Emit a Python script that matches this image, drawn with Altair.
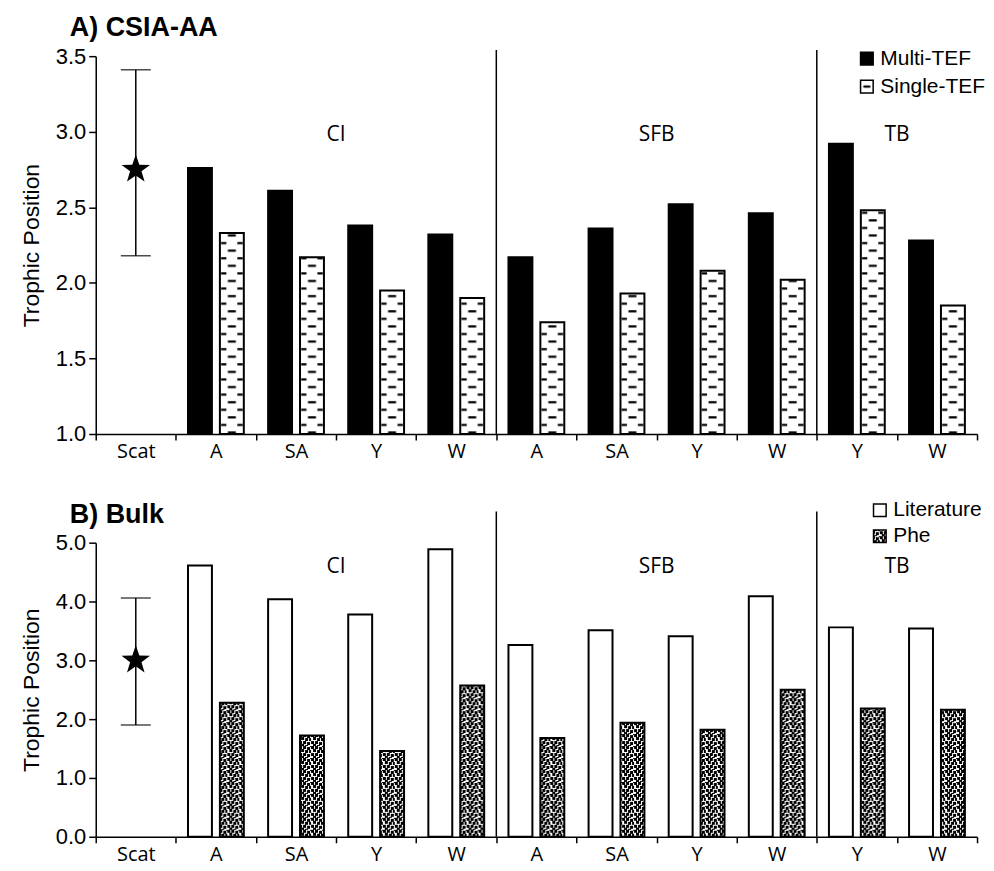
import math
import altair as alt
import pandas as pd
import jinja2

# ---------------- data ----------------
categories = ["Scat", "CI-A", "CI-SA", "CI-Y", "CI-W", "SFB-A", "SFB-SA", "SFB-Y", "SFB-W", "TB-Y", "TB-W"]
bar_categories = categories[1:]

multi_tef = [2.76, 2.61, 2.38, 2.32, 2.17, 2.36, 2.52, 2.46, 2.92, 2.28]
single_tef = [2.33, 2.17, 1.95, 1.90, 1.74, 1.93, 2.08, 2.02, 2.48, 1.85]
literature = [4.61, 4.04, 3.78, 4.89, 3.26, 3.51, 3.41, 4.09, 3.56, 3.54]
phe = [2.28, 1.72, 1.46, 2.57, 1.68, 1.94, 1.82, 2.50, 2.18, 2.16]

scat_a = {"mean": 2.75, "low": 2.18, "high": 3.41}
scat_b = {"mean": 3.00, "low": 1.90, "high": 4.06}

group_labels = ["CI", "SFB", "TB"]
group_anchor = ["CI-Y", "SFB-Y", "TB-W"]      # label sits at the left edge of this band
group_y_a = 2.98
group_y_b = 4.58
separator_cats = ["SFB-A", "TB-Y"]
separator_top_a = 3.54
separator_top_b = 5.53

ticks_a = [1.0, 1.5, 2.0, 2.5, 3.0, 3.5]
ticks_b = [0.0, 1.0, 2.0, 3.0, 4.0, 5.0]

# ---------------- layout / style ----------------
W = 884
H_A = 379
H_B = 295
STEP = W / len(categories)
BAR_W = 24
HALF_GAP = 16                      # bar centre offset from band centre
L2 = STEP / 2 + HALF_GAP - BAR_W / 2   # left edge of the second bar within a band
R2 = L2 + BAR_W

# patterns (SVG defs): dashed brick for Single-TEF, checker for Phe
PH = 15.2
dash_rects = [
    (L2 + 1, 4, 5.5, 2.2), (R2 - 6.5, 4, 5.5, 2.2), (L2 + BAR_W / 2 - 4, 11.6, 8, 2.2),
    # small dash around the origin for the legend symbol
    (0, 0, 3.5, 1.1), (0, PH - 1.1, 3.5, 1.1), (STEP - 3.5, 0, 3.5, 1.1), (STEP - 3.5, PH - 1.1, 3.5, 1.1),
]
dash_pat = (f'<pattern id="dashfill" patternUnits="userSpaceOnUse" x="0" y="0" width="{STEP:.4f}" height="{PH}">'
            f'<rect x="0" y="0" width="{STEP:.4f}" height="{PH}" fill="white"/>'
            + "".join(f'<rect x="{a:.3f}" y="{b:.3f}" width="{c}" height="{d}" fill="black"/>'
                      for a, b, c, d in dash_rects)
            + '</pattern>')
checks = [(0, 0, 3, 3), (4, 0, 3, 3), (8, 1, 3, 3), (2, 3, 3, 3), (6, 4, 3, 3), (10, 4, 2, 3),
          (0, 7, 3, 3), (4, 7, 3, 3), (8, 8, 3, 3), (2, 10, 3, 2), (6, 11, 3, 1), (11, 0, 1, 1)]
phe_pat = ('<pattern id="phefill" patternUnits="userSpaceOnUse" x="0" y="0" width="12" height="12">'
           '<rect x="0" y="0" width="12" height="12" fill="white"/>'
           + "".join(f'<rect x="{a}" y="{b}" width="{c}" height="{d}" fill="black"/>' for a, b, c, d in checks)
           + '</pattern>')
DEFS = dash_pat + phe_pat

# 5-point star as a custom symbol path in [-1, 1]
pts = []
for k in range(10):
    ang = math.radians(-90 + 36 * k)
    r = 1.0 if k % 2 == 0 else 0.40
    pts.append(f"{r * math.cos(ang):.4f},{r * math.sin(ang):.4f}")
STAR = "M" + "L".join(pts) + "Z"

SANS = "Liberation Sans"
MYRIAD = "Open Sans"

label_expr = "indexof(datum.label, '-') >= 0 ? split(datum.label, '-')[1] : datum.label"


def panel(title, names, v1, v2, fills, ymin, ymax, ticks, height, scat, group_y, sep_top,
          leg_x, leg_y, leg_row, title_offset):
    xscale = alt.Scale(domain=categories, paddingInner=0, paddingOuter=0)
    xaxis = alt.Axis(labelExpr=label_expr, tickBand="extent", labelAngle=0, labelFont=MYRIAD,
                     labelFontSize=20, labelColor="black", tickColor="black", tickSize=6, tickWidth=1.5,
                     domainColor="black", domainWidth=1.5, labelPadding=2, grid=False, title=None)
    yscale = alt.Scale(domain=[ymin, ymax], nice=False, zero=False)
    yaxis = alt.Axis(values=ticks, format=".1f", labelFont=SANS, labelFontSize=22, labelColor="black",
                     tickColor="black", tickSize=7, tickWidth=1.5, domainColor="black", domainWidth=1.5,
                     titleFont=SANS, titleFontSize=23, titleFontWeight="normal", titleColor="black",
                     titlePadding=12, labelPadding=3, grid=False)

    def X(field="cat", **kw):
        return alt.X(f"{field}:N", scale=xscale, axis=xaxis, title=None, **kw)

    def Y(field):
        return alt.Y(f"{field}:Q", scale=yscale, axis=yaxis, title="Trophic Position")

    color = alt.Color("series:N", scale=alt.Scale(domain=names, range=fills),
                      legend=alt.Legend(title=None, orient="none", legendX=leg_x, legendY=leg_y,
                                        symbolType="square", symbolSize=160, symbolStrokeColor="black",
                                        symbolStrokeWidth=1.5, labelFont=SANS, labelFontSize=21,
                                        labelColor="black", rowPadding=leg_row, labelOffset=3, padding=0))

    df1 = pd.DataFrame({"cat": bar_categories, "series": [names[0]] * len(v1), "value": v1})
    df2 = pd.DataFrame({"cat": bar_categories, "series": [names[1]] * len(v2), "value": v2})
    bars1 = alt.Chart(df1).mark_bar(width=BAR_W, xOffset=-HALF_GAP, stroke="black", strokeWidth=2).encode(
        x=X(), y=Y("value"), y2=alt.datum(ymin), color=color)
    bars2 = alt.Chart(df2).mark_bar(width=BAR_W, xOffset=HALF_GAP, stroke="black", strokeWidth=2).encode(
        x=X(), y=Y("value"), y2=alt.datum(ymin), color=color)

    scat_df = pd.DataFrame({"cat": ["Scat"], "mean": [scat["mean"]], "low": [scat["low"]], "high": [scat["high"]]})
    caps_df = pd.DataFrame({"cat": ["Scat", "Scat"], "v": [scat["low"], scat["high"]]})
    err = alt.Chart(scat_df).mark_rule(color="black", strokeWidth=1.5).encode(x=X(), y=Y("low"), y2="high:Q")
    caps = alt.Chart(caps_df).mark_tick(color="black", thickness=1.5, size=30).encode(x=X(), y=Y("v"))
    star = alt.Chart(scat_df).mark_point(shape=STAR, size=900, filled=True, color="black", opacity=1).encode(
        x=X(), y=Y("mean"))

    grp_df = pd.DataFrame({"cat": group_anchor, "label": group_labels, "ty": [group_y] * 3})
    grp = alt.Chart(grp_df).mark_text(font=MYRIAD, fontSize=21, color="black", baseline="middle").encode(
        x=X(bandPosition=0), y=Y("ty"), text="label:N")

    sep_df = pd.DataFrame({"cat": separator_cats, "top": [sep_top] * 2})
    sep = alt.Chart(sep_df).mark_rule(color="black", strokeWidth=1.5).encode(
        x=X(bandPosition=0), y=Y("top"), y2=alt.datum(ymin))

    return alt.layer(bars1, bars2, sep, err, caps, star, grp).properties(
        width=W, height=height,
        title=alt.TitleParams(title, anchor="start", frame="group", dx=-26, font=SANS, fontSize=27,
                              fontWeight="bold", color="black", offset=title_offset),
    )


panel_a = panel("A) CSIA-AA", ["Multi-TEF", "Single-TEF"], multi_tef, single_tef,
                ["black", "url(#dashfill)"], 1.0, 3.5, ticks_a, H_A, scat_a, group_y_a,
                separator_top_a, 763, -8, 6, 3)
panel_b = panel("B) Bulk", ["Literature", "Phe"], literature, phe,
                ["white", "url(#phefill)"], 0.0, 5.0, ticks_b, H_B, scat_b, group_y_b,
                separator_top_b, 776, -43, 4, -29)

chart = (alt.vconcat(panel_a, panel_b, spacing=38)
         .resolve_scale(color="independent")
         .properties(background="white", padding={"left": 12, "top": 5, "right": 0, "bottom": 0})
         .configure_view(stroke=None))

TEMPLATE = jinja2.Template("""<!DOCTYPE html>
<html>
<head>
<meta charset="utf-8">
<style>
#{{ output_div }}.vega-embed { width: 100%; display: flex; }
</style>
<script type="text/javascript" src="{{ base_url }}/vega@{{ vega_version }}"></script>
<script type="text/javascript" src="{{ base_url }}/vega-lite@{{ vegalite_version }}"></script>
<script type="text/javascript" src="{{ base_url }}/vega-embed@{{ vegaembed_version }}"></script>
</head>
<body>
<svg width="0" height="0" style="position:absolute;left:0;top:0" aria-hidden="true"><defs>""" + DEFS + """</defs></svg>
<div id="{{ output_div }}"></div>
<script type="text/javascript">
  (function(vegaEmbed) {
    var spec = {{ spec }};
    var embedOpt = {{ embed_options }};
    function showError(el, error){
      el.innerHTML = ('<div style="color:red;"><p>JavaScript Error: ' + error.message + '</p></div>');
      throw error;
    }
    const el = document.getElementById('{{ output_div }}');
    vegaEmbed("#{{ output_div }}", spec, embedOpt).catch(error => showError(el, error));
  })(vegaEmbed);
</script>
</body>
</html>
""")

chart.save("out.html", embed_options={"renderer": "svg", "actions": False}, template=TEMPLATE)
